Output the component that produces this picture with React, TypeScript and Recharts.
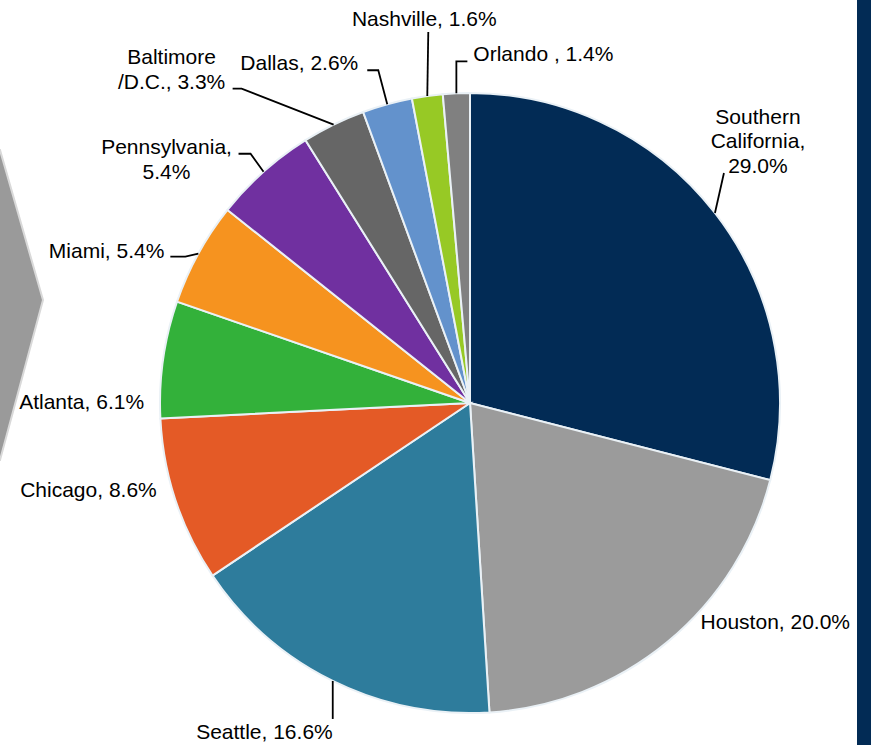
import { PieChart, Pie, Cell } from "recharts";

const markets = [
  "Southern California",
  "Houston",
  "Seattle",
  "Chicago",
  "Atlanta",
  "Miami",
  "Pennsylvania",
  "Baltimore /D.C.",
  "Dallas",
  "Nashville",
  "Orlando ",
];
const shares = [29.0, 20.0, 16.6, 8.6, 6.1, 5.4, 5.4, 3.3, 2.6, 1.6, 1.4];
const colors = [
  "#022b55",
  "#9b9b9b",
  "#2e7c9c",
  "#e45a26",
  "#33b13a",
  "#f6931f",
  "#7030a0",
  "#666666",
  "#6392cc",
  "#97c925",
  "#808080",
];

const data = markets.map((name, i) => ({ name, value: shares[i] }));

type Wrap = "none" | "words" | "first";
type LabelLayout = {
  line?: [number, number][]; // leader line points, offset from the slice edge
  text: [number, number]; // baseline of the last line, offset from the slice edge
  anchor: "start" | "middle" | "end";
  wrap: Wrap;
};

// label placement, relative to where the slice's mid angle meets the rim
const layouts: LabelLayout[] = [
  { line: [[9, -40]], text: [43, -40], anchor: "middle", wrap: "words" },
  { text: [33, -13], anchor: "start", wrap: "none" },
  { line: [[0, 38]], text: [0, 58], anchor: "end", wrap: "none" },
  { text: [-19, -4], anchor: "end", wrap: "none" },
  { text: [-19, 50], anchor: "end", wrap: "none" },
  { line: [[-13, 3], [-28, 3]], text: [-34, 4], anchor: "end", wrap: "none" },
  { line: [[-13, -18], [-25, -18]], text: [-97, 7], anchor: "middle", wrap: "words" },
  { line: [[-92, -36], [-101, -36]], text: [-162, -36], anchor: "middle", wrap: "first" },
  { line: [[-9, -34], [-20, -34]], text: [-29, -34], anchor: "end", wrap: "none" },
  { line: [[1, -64]], text: [-3, -70], anchor: "middle", wrap: "none" },
  { line: [[0, -32], [11, -32]], text: [17, -32], anchor: "start", wrap: "none" },
];

const RAD = Math.PI / 180;
const FONT = "'Liberation Sans', Arial, sans-serif";
const LINE_H = 24.5;

function splitLabel(label: string, wrap: Wrap) {
  if (wrap === "words") return label.split(" ");
  if (wrap === "first") {
    const i = label.indexOf(" ");
    return [label.slice(0, i), label.slice(i + 1)];
  }
  return [label];
}

function renderLabel(props: any) {
  const { cx, cy, midAngle, outerRadius, index, name, value } = props;
  const lay = layouts[index];
  const ex = cx + outerRadius * Math.cos(-midAngle * RAD);
  const ey = cy + outerRadius * Math.sin(-midAngle * RAD);
  const lines = splitLabel(`${name}, ${Number(value).toFixed(1)}%`, lay.wrap);
  const tx = ex + lay.text[0];
  const ty = ey + lay.text[1];
  const pts = lay.line
    ? [[ex, ey], ...lay.line.map(([dx, dy]) => [ex + dx, ey + dy])]
    : null;

  return (
    <g key={`lbl-${index}`}>
      {pts && (
        <polyline
          points={pts.map((p) => p.join(",")).join(" ")}
          fill="none"
          stroke="#000"
          strokeWidth={1.8}
        />
      )}
      <text
        x={tx}
        y={ty}
        textAnchor={lay.anchor}
        fontFamily={FONT}
        fontSize={21}
        fill="#000"
      >
        {lines.map((l, i) => (
          <tspan key={i} x={tx} y={ty - (lines.length - 1 - i) * LINE_H}>
            {l}
          </tspan>
        ))}
      </text>
    </g>
  );
}

export default function App() {
  return (
    <div
      style={{
        position: "absolute",
        left: 0,
        top: 0,
        width: 871,
        height: 745,
        background: "#fff",
        overflow: "hidden",
      }}
    >
      <svg
        width={871}
        height={745}
        style={{ position: "absolute", left: 0, top: 0 }}
      >
        <polygon
          points="-10,150 0,150 43,300 0,460 -10,460"
          fill="#9a9a9a"
          stroke="#d9d9d9"
          strokeWidth={2}
        />
        <rect x={857} y={0} width={14} height={745} fill="#022b55" />
      </svg>
      <div style={{ position: "absolute", left: 0, top: 0 }}>
        <PieChart width={871} height={745} margin={{ top: 0, right: 0, bottom: 0, left: 0 }}>
          <Pie
            data={data}
            dataKey="value"
            nameKey="name"
            cx={470}
            cy={403}
            outerRadius={310}
            startAngle={90}
            endAngle={-270}
            stroke="#eaf1f6"
            strokeWidth={2}
            label={renderLabel}
            labelLine={false}
            isAnimationActive={false}
          >
            {data.map((d, i) => (
              <Cell key={d.name} fill={colors[i]} />
            ))}
          </Pie>
        </PieChart>
      </div>
    </div>
  );
}
